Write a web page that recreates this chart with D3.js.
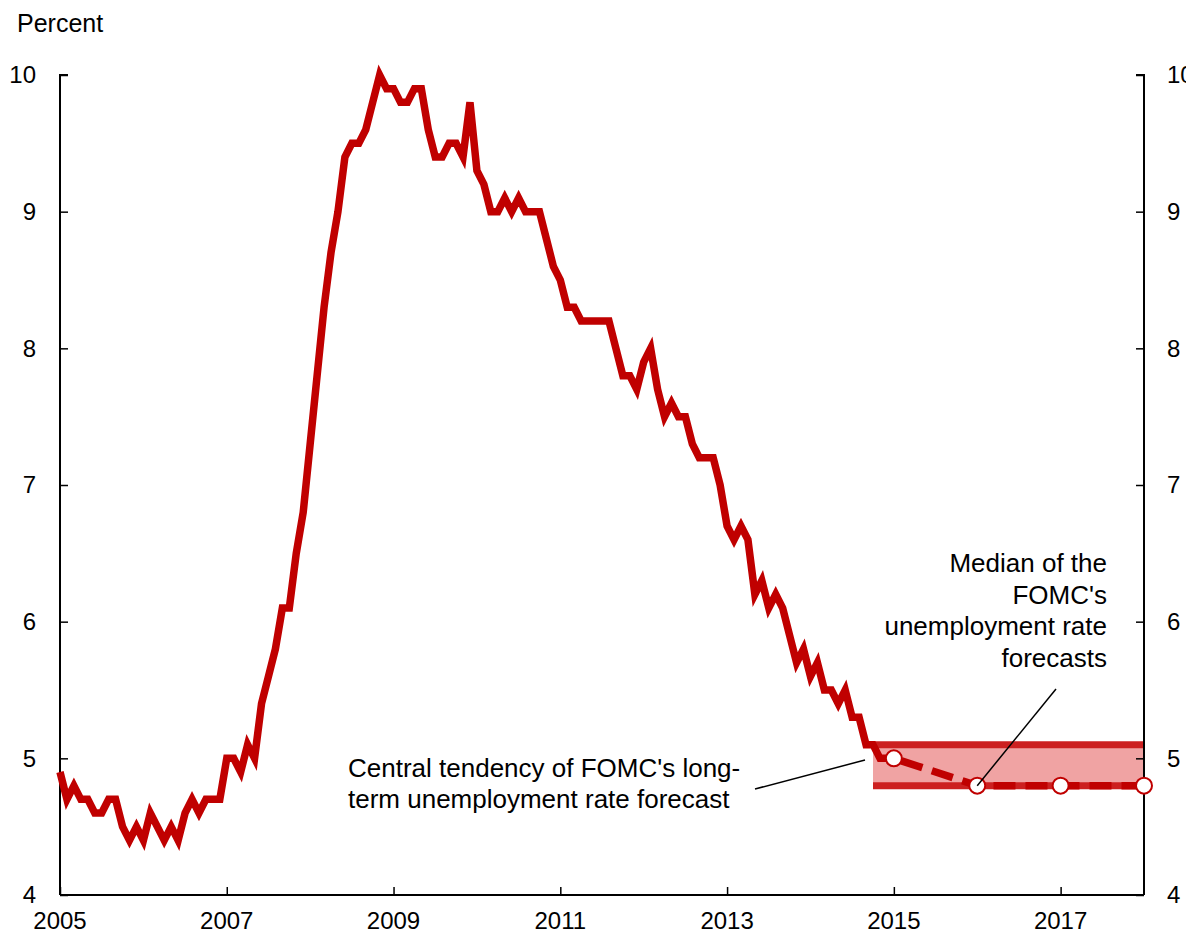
<!DOCTYPE html>
<html><head><meta charset="utf-8">
<script src="https://cdn.jsdelivr.net/npm/d3@7"></script>
<style>body{margin:0;background:#fff;}svg{display:block;font-family:"Liberation Sans",Arial,sans-serif;}</style>
</head><body>
<svg id="c" width="1186" height="937"></svg>
<script>
// Monthly unemployment rate, first value at the "2005" tick, one value per month
const startYear = 2005;
const unemployment = [
  4.9,
  4.7,4.8,4.7,4.7,4.6,4.6,4.7,4.7,4.5,4.4,4.5,4.4,
  4.6,4.5,4.4,4.5,4.4,4.6,4.7,4.6,4.7,4.7,4.7,5.0,
  5.0,4.9,5.1,5.0,5.4,5.6,5.8,6.1,6.1,6.5,6.8,7.3,
  7.8,8.3,8.7,9.0,9.4,9.5,9.5,9.6,9.8,10.0,9.9,9.9,
  9.8,9.8,9.9,9.9,9.6,9.4,9.4,9.5,9.5,9.4,9.8,9.3,
  9.2,9.0,9.0,9.1,9.0,9.1,9.0,9.0,9.0,8.8,8.6,8.5,
  8.3,8.3,8.2,8.2,8.2,8.2,8.2,8.0,7.8,7.8,7.7,7.9,
  8.0,7.7,7.5,7.6,7.5,7.5,7.3,7.2,7.2,7.2,7.0,6.7,
  6.6,6.7,6.6,6.2,6.3,6.1,6.2,6.1,5.9,5.7,5.8,5.6,
  5.7,5.5,5.5,5.4,5.5,5.3,5.3,5.1,5.1,5.0
];
const forecastYears = [2015, 2016, 2017, 2018];
const forecastMedian = [5.0, 4.8, 4.8, 4.8];
const centralTendency = [4.8, 5.1];
const bandYears = [2014.75, 2018];
const xTicks = [2005, 2007, 2009, 2011, 2013, 2015, 2017];
const yTicks = [4, 5, 6, 7, 8, 9, 10];
const yLabel = "Percent";
const noteMedian = ["Median of the", "FOMC's", "unemployment rate", "forecasts"];
const noteCentral = ["Central tendency of FOMC's long-", "term unemployment rate forecast"];

const svg = d3.select("#c");
const x = d3.scaleLinear().domain([2005, 2018]).range([60, 1144]);
const y = d3.scaleLinear().domain([4, 10]).range([895, 75]);
const red = "#c00000";

// band
svg.append("rect")
  .attr("x", x(bandYears[0])).attr("width", x(bandYears[1]) - x(bandYears[0]))
  .attr("y", y(centralTendency[1])).attr("height", y(centralTendency[0]) - y(centralTendency[1]))
  .attr("fill", "#f0a3a3");
centralTendency.forEach(v => {
  svg.append("line").attr("x1", x(bandYears[0])).attr("x2", x(bandYears[1]))
    .attr("y1", y(v)).attr("y2", y(v)).attr("stroke", "#cc2020").attr("stroke-width", 7);
});

// axes
const fs = 24;
const left = svg.append("g").attr("transform", `translate(${x(2005)},0)`)
  .call(d3.axisRight(y).tickValues(yTicks).tickSize(8).tickFormat(""));
const right = svg.append("g").attr("transform", `translate(${x(2018)},0)`)
  .call(d3.axisLeft(y).tickValues(yTicks).tickSize(8).tickFormat(""));
const bottom = svg.append("g").attr("transform", `translate(0,${y(4)})`)
  .call(d3.axisTop(x).tickValues(xTicks).tickSize(8).tickFormat(""));
[left, right, bottom].forEach(g => {
  g.select(".domain").attr("stroke", "#000").attr("stroke-width", 2);
  g.selectAll(".tick line").attr("stroke", "#000").attr("stroke-width", 1.5);
});
left.select(".domain").attr("d", `M8,${y(10)}H0V${y(4)}`);
right.select(".domain").attr("d", `M-8,${y(10)}H0V${y(4)}`);
bottom.select(".domain").attr("d", `M${x(2005)},0H${x(2018)}`);

svg.append("g").selectAll("text").data(yTicks).join("text")
  .attr("x", 36).attr("y", d => y(d)).attr("dy", "0.35em")
  .attr("text-anchor", "end").attr("font-size", fs).text(d => d);
svg.append("g").selectAll("text").data(yTicks).join("text")
  .attr("x", 1167).attr("y", d => y(d)).attr("dy", "0.35em")
  .attr("text-anchor", "start").attr("font-size", fs).text(d => d);
svg.append("g").selectAll("text").data(xTicks).join("text")
  .attr("x", d => x(d)).attr("y", 929)
  .attr("text-anchor", "middle").attr("font-size", fs).text(d => d);
svg.append("text").attr("x", 17).attr("y", 32).attr("font-size", 25).text(yLabel);

// actual line
const pts = unemployment.map((v, i) => [startYear + i / 12, v]);
const line = d3.line().x(d => x(d[0])).y(d => y(d[1]));
svg.append("path").datum(pts.concat([[forecastYears[0], forecastMedian[0]]]))
  .attr("d", line).attr("fill", "none").attr("stroke", red)
  .attr("stroke-width", 7.5).attr("stroke-linejoin", "miter");

// forecast dashed
const fpts = forecastYears.map((yr, i) => [yr, forecastMedian[i]]);
svg.append("path").datum(fpts).attr("d", line).attr("fill", "none")
  .attr("stroke", red).attr("stroke-width", 7.5).attr("stroke-dasharray", "22,10")
  .attr("stroke-dashoffset", -8);
svg.append("g").selectAll("circle").data(fpts).join("circle")
  .attr("cx", d => x(d[0])).attr("cy", d => y(d[1])).attr("r", 8)
  .attr("fill", "#fff").attr("stroke", red).attr("stroke-width", 2);

// annotations
const afs = 26;
svg.append("g").selectAll("text").data(noteMedian).join("text")
  .attr("x", 1107).attr("y", (d, i) => 572 + i * 31.7)
  .attr("text-anchor", "end").attr("font-size", afs).text(d => d);
svg.append("line").attr("x1", 1056).attr("y1", 689)
  .attr("x2", x(forecastYears[1])).attr("y2", y(forecastMedian[1]))
  .attr("stroke", "#000").attr("stroke-width", 1.5);
svg.append("g").selectAll("text").data(noteCentral).join("text")
  .attr("x", 348).attr("y", (d, i) => 777 + i * 31)
  .attr("text-anchor", "start").attr("font-size", afs).text(d => d);
svg.append("line").attr("x1", 755).attr("y1", 789).attr("x2", 865).attr("y2", 760)
  .attr("stroke", "#000").attr("stroke-width", 1.5);
</script>
</body></html>
